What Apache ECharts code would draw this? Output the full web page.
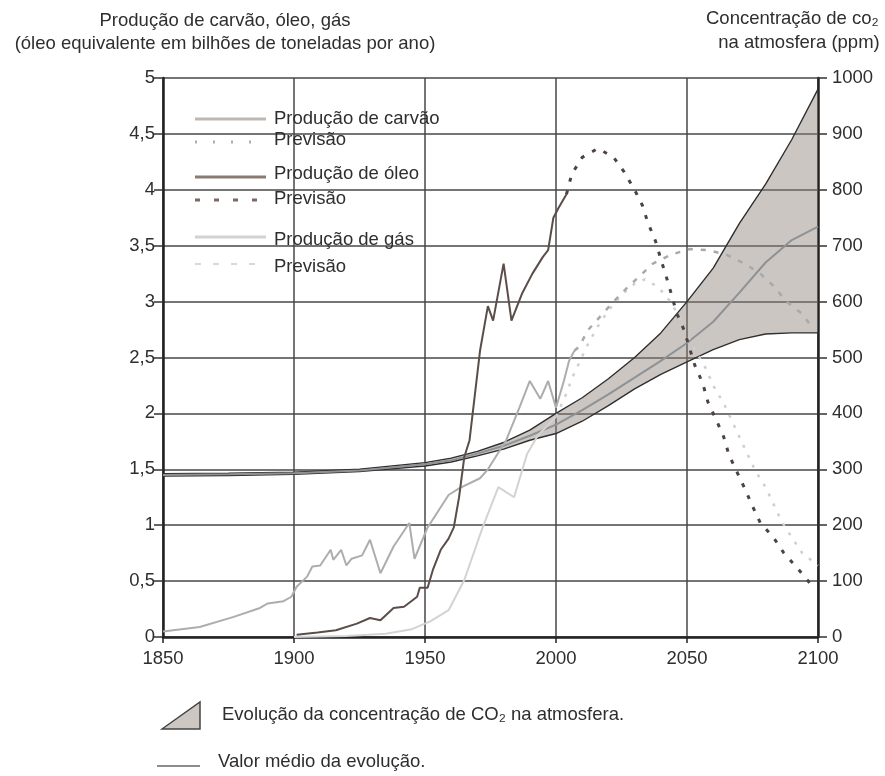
<!DOCTYPE html>
<html>
<head>
<meta charset="utf-8">
<script src="https://cdn.jsdelivr.net/npm/echarts@6/dist/echarts.min.js"></script>
<style>html,body{margin:0;padding:0;background:#fff}#c{width:885px;height:776px}</style>
</head>
<body>
<div id="c"></div>
<script>
// ---- tick labels ----
const xTicks = ['1850', '1900', '1950', '2000', '2050', '2100'];
const leftTicks = ['0', '0,5', '1', '1,5', '2', '2,5', '3', '3,5', '4', '4,5', '5'];
const rightTicks = ['0', '100', '200', '300', '400', '500', '600', '700', '800', '900', '1000'];

// ---- coal production (billions of tonnes oil-equivalent) ----
const coalYears = [1850, 1864, 1877, 1887, 1890, 1896, 1899, 1901, 1905, 1907, 1910, 1914, 1915, 1918, 1920, 1922, 1926, 1929, 1933, 1938, 1944, 1946, 1951, 1959, 1963, 1971, 1974, 1981, 1986, 1990, 1994, 1997, 2000, 2003, 2005, 2007];
const coalValues = [0.05, 0.09, 0.18, 0.26, 0.30, 0.32, 0.36, 0.45, 0.54, 0.63, 0.64, 0.78, 0.69, 0.78, 0.64, 0.70, 0.73, 0.87, 0.57, 0.81, 1.02, 0.70, 0.98, 1.27, 1.33, 1.42, 1.50, 1.76, 2.05, 2.29, 2.13, 2.29, 2.05, 2.29, 2.47, 2.56];
const coalForecastYears = [2007, 2009, 2012, 2017, 2022, 2027, 2032, 2037, 2044, 2051, 2058, 2065, 2072, 2078, 2083, 2088, 2094, 2098];
const coalForecastValues = [2.56, 2.60, 2.74, 2.87, 3.00, 3.12, 3.23, 3.34, 3.42, 3.47, 3.46, 3.42, 3.34, 3.25, 3.14, 3.00, 2.89, 2.76];

// ---- oil production ----
const oilYears = [1901, 1909, 1916, 1924, 1929, 1933, 1938, 1942, 1947, 1948, 1951, 1953, 1956, 1959, 1961, 1963, 1965, 1967, 1971, 1974, 1976, 1980, 1983, 1987, 1991, 1995, 1997, 1999, 2001, 2004];
const oilValues = [0.02, 0.04, 0.06, 0.12, 0.17, 0.15, 0.26, 0.27, 0.36, 0.44, 0.44, 0.60, 0.78, 0.88, 0.98, 1.25, 1.61, 1.76, 2.56, 2.96, 2.83, 3.34, 2.83, 3.07, 3.25, 3.40, 3.46, 3.75, 3.84, 3.96];
const oilForecastYears = [2004, 2006, 2010, 2016, 2022, 2026, 2030, 2033, 2035, 2038, 2040, 2042, 2044, 2046, 2049, 2051, 2053, 2056, 2058, 2061, 2064, 2066, 2069, 2072, 2075, 2078, 2083, 2087, 2092, 2097];
const oilForecastValues = [3.96, 4.14, 4.29, 4.37, 4.29, 4.16, 4.00, 3.86, 3.71, 3.54, 3.38, 3.23, 3.07, 2.90, 2.74, 2.58, 2.43, 2.27, 2.10, 1.95, 1.79, 1.63, 1.48, 1.33, 1.17, 1.02, 0.89, 0.75, 0.62, 0.48];

// ---- gas production ----
const gasYears = [1900, 1920, 1935, 1945, 1952, 1959, 1965, 1972, 1978, 1984, 1989, 1993, 2000];
const gasValues = [0.00, 0.01, 0.03, 0.07, 0.14, 0.24, 0.51, 0.98, 1.34, 1.25, 1.64, 1.80, 1.97];
const gasForecastYears = [2000, 2004, 2006, 2009, 2012, 2016, 2020, 2025, 2030, 2034, 2039, 2044, 2047, 2051, 2057, 2060, 2064, 2067, 2070, 2073, 2076, 2080, 2083, 2086, 2090, 2094, 2100];
const gasForecastValues = [1.97, 2.18, 2.31, 2.46, 2.61, 2.78, 2.92, 3.06, 3.16, 3.20, 3.13, 2.99, 2.86, 2.65, 2.41, 2.25, 2.09, 1.94, 1.79, 1.64, 1.49, 1.34, 1.19, 1.04, 0.89, 0.75, 0.64];

// ---- CO2 concentration (ppm) ----
const co2Years = [1850, 1875, 1900, 1925, 1950, 1960, 1970, 1980, 1990, 2000, 2010, 2020, 2030, 2040, 2050, 2060, 2070, 2080, 2090, 2100];
const co2Upper = [292, 293, 295, 300, 312, 320, 332, 348, 370, 400, 428, 462, 500, 544, 600, 660, 740, 810, 890, 980];
const co2Mean = [290, 291, 293, 298, 309, 316, 328, 342, 360, 380, 406, 434, 464, 494, 526, 564, 616, 670, 710, 734];
const co2Lower = [288, 289, 291, 296, 306, 313, 324, 336, 352, 364, 386, 414, 444, 470, 492, 514, 532, 542, 544, 544];

const pairs = (xs, ys) => xs.map((x, i) => [x, ys[i]]);
const FONT = '"Liberation Sans", Arial, sans-serif';
const FS = 18.5;
const TXT = '#2e2e2e';
const GRIDC = '#474747';

const chart = echarts.init(document.getElementById('c'), null, { renderer: 'canvas' });

const legendLines = [
  { y: 119, stroke: '#bdb8b3', dash: null, w: 3, label: 'Produção de carvão', ty: 119 },
  { y: 142, stroke: '#b0b0b0', dash: [2, 16], w: 3, label: 'Previsão', ty: 140 },
  { y: 177, stroke: '#8a7a6f', dash: null, w: 3, label: 'Produção de óleo', ty: 174 },
  { y: 200, stroke: '#7a6a62', dash: [5, 14], w: 3, label: 'Previsão', ty: 199 },
  { y: 237, stroke: '#d2d2d2', dash: null, w: 3, label: 'Produção de gás', ty: 240 },
  { y: 264, stroke: '#d8d8d8', dash: [6, 12], w: 2, label: 'Previsão', ty: 267 }
];

const graphics = [];
legendLines.forEach(l => {
  graphics.push({
    type: 'line', z: 100,
    shape: { x1: 195, y1: l.y, x2: 266, y2: l.y },
    style: { stroke: l.stroke, lineWidth: l.w, lineDash: l.dash || null }
  });
  graphics.push({
    type: 'text', z: 100, x: 274, y: l.ty,
    style: { text: l.label, font: FS + 'px ' + FONT, fill: TXT, verticalAlign: 'middle', align: 'left' }
  });
});

// Axis titles
graphics.push(
  { type: 'text', x: 225, y: 21, style: { text: 'Produção de carvão, óleo, gás', font: FS + 'px ' + FONT, fill: TXT, align: 'center', verticalAlign: 'middle' } },
  { type: 'text', x: 225, y: 44, style: { text: '(óleo equivalente em bilhões de toneladas por ano)', font: FS + 'px ' + FONT, fill: TXT, align: 'center', verticalAlign: 'middle' } },
  { type: 'text', x: 706, y: 19, style: { text: 'Concentração de co₂', font: FS + 'px ' + FONT, fill: TXT, align: 'left', verticalAlign: 'middle' } },
  { type: 'text', x: 799, y: 43, style: { text: 'na atmosfera (ppm)', font: FS + 'px ' + FONT, fill: TXT, align: 'center', verticalAlign: 'middle' } }
);

// Bottom legend
graphics.push(
  { type: 'polygon', shape: { points: [[162, 729], [200, 702], [200, 729]] }, style: { fill: '#cdc7c3', stroke: '#444', lineWidth: 1.5 } },
  { type: 'text', x: 222, y: 715, style: { text: 'Evolução da concentração de CO₂ na atmosfera.', font: FS + 'px ' + FONT, fill: TXT, verticalAlign: 'middle' } },
  { type: 'line', shape: { x1: 157, y1: 766, x2: 200, y2: 766 }, style: { stroke: '#8c8c8c', lineWidth: 2 } },
  { type: 'text', x: 218, y: 762, style: { text: 'Valor médio da evolução.', font: FS + 'px ' + FONT, fill: TXT, verticalAlign: 'middle' } }
);

const lineBase = { type: 'line', showSymbol: false, symbol: 'none', animation: false, smooth: false };

const option = {
  animation: false,
  backgroundColor: '#ffffff',
  grid: { left: 163, right: 67, top: 78, bottom: 139, containLabel: false },
  xAxis: {
    type: 'value', min: 1850, max: 2100, interval: 50,
    axisLine: { show: true, onZero: false, lineStyle: { color: '#222', width: 2.5 } },
    axisTick: { show: true, length: 6, lineStyle: { color: '#222', width: 1.5 } },
    axisLabel: { color: TXT, fontSize: FS, fontFamily: FONT, margin: 12,
      formatter: v => xTicks[Math.round((v - 1850) / 50)] },
    splitLine: { show: true, lineStyle: { color: GRIDC, width: 1.5 } }
  },
  yAxis: [
    {
      type: 'value', min: 0, max: 5, interval: 0.5,
      axisLine: { show: true, lineStyle: { color: '#222', width: 2.5 } },
      axisTick: { show: true, length: 9, lineStyle: { color: '#333', width: 1.5 } },
      axisLabel: { color: TXT, fontSize: FS, fontFamily: FONT, margin: 8,
        formatter: v => leftTicks[Math.round(v / 0.5)] },
      splitLine: { show: true, lineStyle: { color: GRIDC, width: 1.5 } }
    },
    {
      type: 'value', min: 0, max: 1000, interval: 100, position: 'right',
      axisLine: { show: true, lineStyle: { color: '#222', width: 2.5 } },
      axisTick: { show: true, length: 9, lineStyle: { color: '#333', width: 1.5 } },
      axisLabel: { color: TXT, fontSize: FS, fontFamily: FONT, margin: 14,
        formatter: v => rightTicks[Math.round(v / 100)] },
      splitLine: { show: false }
    }
  ],
  graphic: graphics,
  series: [
    {
      type: 'custom', name: 'co2Band', yAxisIndex: 1, z: 2, animation: false,
      data: co2Years.map((y, i) => [y, co2Lower[i], co2Upper[i]]),
      encode: { x: 0, y: [1, 2] },
      renderItem: function (params, api) {
        if (params.dataIndex !== 0) return null;
        const pts = [];
        for (let i = 0; i < co2Years.length; i++) pts.push(api.coord([co2Years[i], co2Upper[i]]));
        for (let i = co2Years.length - 1; i >= 0; i--) pts.push(api.coord([co2Years[i], co2Lower[i]]));
        return { type: 'polygon', shape: { points: pts }, style: { fill: 'rgba(140,128,120,0.45)', stroke: null } };
      }
    },
    Object.assign({}, lineBase, {
      name: 'co2Upper', yAxisIndex: 1, z: 3,
      data: pairs(co2Years, co2Upper),
      lineStyle: { color: '#2f2f2f', width: 1.4 }
    }),
    Object.assign({}, lineBase, {
      name: 'co2Lower', yAxisIndex: 1, z: 3,
      data: pairs(co2Years, co2Lower),
      lineStyle: { color: '#2f2f2f', width: 1.4 }
    }),
    Object.assign({}, lineBase, {
      name: 'co2Mean', yAxisIndex: 1, z: 3,
      data: pairs(co2Years, co2Mean),
      lineStyle: { color: '#8e9296', width: 2 }
    }),
    Object.assign({}, lineBase, {
      name: 'Produção de gás', z: 4,
      data: pairs(gasYears, gasValues),
      lineStyle: { color: '#d3d3d3', width: 2 }
    }),
    Object.assign({}, lineBase, {
      name: 'Previsão gás', z: 4,
      data: pairs(gasForecastYears, gasForecastValues),
      lineStyle: { color: '#cfcfcf', width: 2.5, type: [3, 8] }
    }),
    Object.assign({}, lineBase, {
      name: 'Produção de carvão', z: 5,
      data: pairs(coalYears, coalValues),
      lineStyle: { color: '#adadad', width: 2 }
    }),
    Object.assign({}, lineBase, {
      name: 'Previsão carvão', z: 5,
      data: pairs(coalForecastYears, coalForecastValues),
      lineStyle: { color: '#a9a9a9', width: 2.5, type: [5, 8] }
    }),
    Object.assign({}, lineBase, {
      name: 'Produção de óleo', z: 6,
      data: pairs(oilYears, oilValues),
      lineStyle: { color: '#5b4d49', width: 2 }
    }),
    Object.assign({}, lineBase, {
      name: 'Previsão óleo', z: 6,
      data: pairs(oilForecastYears, oilForecastValues),
      lineStyle: { color: '#4d4340', width: 3, type: [4, 9] }
    })
  ]
};

chart.setOption(option);
</script>
</body>
</html>
